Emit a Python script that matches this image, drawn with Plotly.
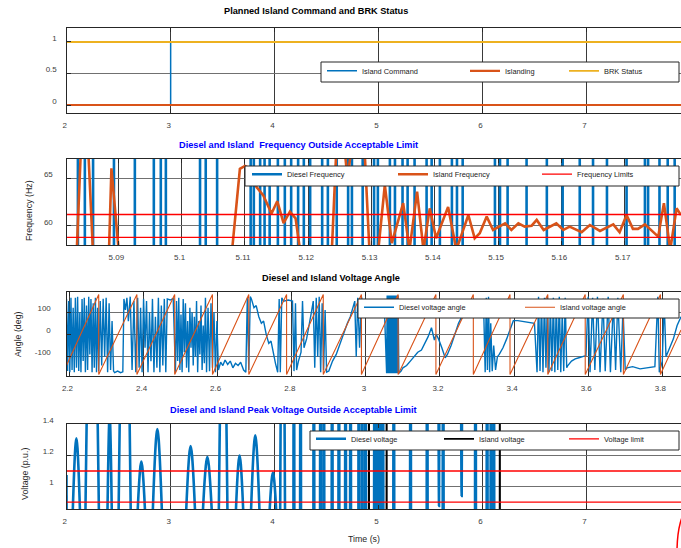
import plotly.graph_objects as go

# ======================= DATA =======================
# ---- shared time axis (panels 1 and 4) ----
time_range = [1.998, 7.91]
time_ticks = [2, 3, 4, 5, 6, 7]
time_ticktext = ["2", "3", "4", "5", "6", "7"]

# ---- panel 1: planned island command / BRK status ----
p1_yrange = [-0.127, 1.222]
p1_yticks = [0, 0.5, 1]
p1_yticktext = ["0", "0.5", "1"]
command_t = [1.998, 3.0, 3.0, 7.91]
command_v = [0, 0, 1, 1]
islanding_t = [1.998, 7.91]
islanding_v = [0, 0]
brk_t = [1.998, 7.91]
brk_v = [1, 1]

# ---- panel 2: frequency ----
freq_trange = [5.0818, 5.1789]
freq_xticks = [5.09, 5.10, 5.11, 5.12, 5.13, 5.14, 5.15, 5.16, 5.17]
freq_xticktext = ["5.09", "5.1", "5.11", "5.12", "5.13", "5.14", "5.15", "5.16", "5.17"]
freq_yrange = [58.0, 67.03]
freq_yticks = [60, 65]
freq_yticktext = ["60", "65"]
freq_limits = [61.2, 58.8]
# diesel frequency swings far off scale: times of the full-height swings
diesel_freq_swing_t = [5.0836, 5.0847, 5.0860, 5.0893, 5.0926, 5.0956, 5.0967, 5.0975,
                       5.1029, 5.1038, 5.1056, 5.1109, 5.1114, 5.1124, 5.1131, 5.1139,
                       5.1152, 5.1163, 5.1173, 5.1184, 5.1193, 5.1203, 5.1222, 5.1231,
                       5.1245, 5.1263, 5.1269, 5.1286, 5.1304, 5.1310, 5.1329, 5.1337,
                       5.1349, 5.1357, 5.1368, 5.1387, 5.1395, 5.1408, 5.1427, 5.1435,
                       5.1444, 5.1495, 5.1503, 5.1515, 5.1545, 5.1577, 5.1602, 5.1629,
                       5.1650, 5.1672, 5.1703, 5.1732, 5.1737, 5.1755, 5.1768, 5.1779]
diesel_freq_swing_low = 40.0
diesel_freq_swing_high = 80.0
island_freq_t = [5.0818, 5.0834, 5.0841, 5.0852, 5.0860, 5.0885, 5.0889, 5.0901, 5.1079, 5.1092,
                 5.1100, 5.1109, 5.1118, 5.1129, 5.1142, 5.1151, 5.1161, 5.1171, 5.1180, 5.1188,
                 5.1237, 5.1245, 5.1256, 5.1262, 5.1270, 5.1289, 5.1297, 5.1310, 5.1321, 5.1332,
                 5.1350, 5.1360, 5.1372, 5.1382, 5.1392, 5.1402, 5.1421, 5.1434, 5.1453, 5.1463,
                 5.1471, 5.1482, 5.1492, 5.1511, 5.1521, 5.1532, 5.1542, 5.1553, 5.1561, 5.1572,
                 5.1592, 5.1603, 5.1613, 5.1632, 5.1645, 5.1661, 5.1682, 5.1692, 5.1703, 5.1713,
                 5.1721, 5.1732, 5.1753, 5.1762, 5.1772, 5.1782, 5.1789]
island_freq_v = [57.0, 57.0, 68.5, 68.5, 57.0, 57.0, 66.05, 57.0, 57.0, 66.0,
                 66.3, 66.0, 64.1, 63.2, 61.3, 62.6, 60.3, 61.5, 60.8, 57.0,
                 57.0, 69.0, 69.0, 65.0, 69.0, 68.0, 57.0, 57.0, 64.3, 58.2,
                 62.4, 57.5, 63.6, 57.5, 61.85, 58.7, 62.0, 57.5, 61.15, 58.7,
                 59.23, 60.98, 59.58, 60.28, 59.58, 60.28, 59.93, 60.03, 60.63, 59.58,
                 60.28, 59.58, 59.93, 59.34, 60.1, 59.48, 60.17, 59.34, 61.15, 59.69,
                 59.69, 60.17, 58.88, 62.4, 57.5, 61.85, 61.15]

# ---- panel 3: voltage angle ----
ang_trange = [2.192, 3.8505]
ang_xticks = [2.2, 2.4, 2.6, 2.8, 3.0, 3.2, 3.4, 3.6, 3.8]
ang_xticktext = ["2.2", "2.4", "2.6", "2.8", "3", "3.2", "3.4", "3.6", "3.8"]
ang_yrange = [-187, 191]
ang_yticks = [-100, 0, 100]
ang_yticktext = ["-100", "0", "100"]
island_ang_t = [2.192, 2.279, 2.279, 2.382, 2.382, 2.484, 2.484, 2.586, 2.586, 2.684, 2.684,
                2.786, 2.786, 2.885, 2.885, 2.988, 2.988, 3.087, 3.087, 3.189, 3.189, 3.290,
                3.290, 3.389, 3.389, 3.491, 3.491, 3.592, 3.592, 3.695, 3.695, 3.795, 3.795, 3.8505]
island_ang_v = [-140, 180, -180, 180, -180, 180, -180, 180, -180, 180, -180,
                180, -180, 180, -180, 180, -180, 180, -180, 180, -180, 180,
                -180, 180, -180, 180, -180, 180, -180, 180, -180, 180, -180, 20]
diesel_ang_t = [
    2.192, 2.195, 2.198, 2.201, 2.204, 2.207, 2.210, 2.213, 2.216, 2.219, 2.222, 2.225, 2.228,
    2.231, 2.234, 2.237, 2.240, 2.243, 2.246, 2.249, 2.252, 2.255, 2.258, 2.261, 2.264, 2.267,
    2.270, 2.273, 2.276, 2.279, 2.283, 2.287, 2.291, 2.295, 2.299, 2.303, 2.307, 2.311, 2.315,
    2.319, 2.322, 2.330, 2.338, 2.344, 2.347, 2.351, 2.355, 2.359, 2.364, 2.369, 2.374, 2.379,
    2.384, 2.388, 2.392, 2.396, 2.400, 2.404, 2.408, 2.412, 2.416, 2.420, 2.424, 2.428, 2.432,
    2.436, 2.440, 2.444, 2.448, 2.452, 2.456, 2.460, 2.464, 2.472, 2.480,
    2.486, 2.489, 2.492, 2.495, 2.498, 2.501, 2.504, 2.507, 2.510, 2.513, 2.516, 2.519, 2.522,
    2.525, 2.528, 2.531, 2.534, 2.537, 2.540, 2.543, 2.546, 2.549, 2.552, 2.555, 2.558, 2.561,
    2.564, 2.567, 2.570, 2.574, 2.578, 2.582, 2.586, 2.590, 2.594, 2.598, 2.602,
    2.608, 2.614, 2.620, 2.627, 2.634, 2.641, 2.648, 2.655, 2.662, 2.670, 2.676,
    2.680, 2.684, 2.688, 2.691, 2.698, 2.704, 2.711, 2.718, 2.724, 2.731, 2.738, 2.744, 2.750,
    2.756, 2.762, 2.766, 2.769, 2.773, 2.778, 2.790, 2.802,
    2.806, 2.810, 2.813, 2.818, 2.825, 2.829, 2.833, 2.840, 2.846, 2.852, 2.858,
    2.862, 2.866, 2.870, 2.874, 2.878, 2.882, 2.886, 2.890,
    2.894, 2.900, 2.910, 2.920, 2.930, 2.940, 2.950, 2.958, 2.966,
    2.970, 2.974, 2.978, 2.983, 2.988, 2.994, 3.010, 3.030, 3.050,
    3.056, 3.0575, 3.059, 3.0605, 3.062, 3.0635, 3.065, 3.0665, 3.068, 3.0695, 3.071, 3.0725,
    3.074, 3.0755, 3.077, 3.0785, 3.080, 3.0815, 3.083, 3.0845, 3.086, 3.087,
    3.089, 3.095, 3.100, 3.110, 3.120, 3.130, 3.140, 3.150, 3.160, 3.168, 3.177, 3.185, 3.190,
    3.196, 3.205, 3.214, 3.220, 3.230, 3.240, 3.250, 3.259, 3.270, 3.300, 3.318,
    3.322, 3.325, 3.328, 3.331, 3.334, 3.337, 3.341, 3.345, 3.350, 3.355, 3.360, 3.370, 3.380,
    3.390, 3.398, 3.410, 3.420, 3.430, 3.440, 3.455,
    3.462, 3.466, 3.470, 3.474, 3.478, 3.482, 3.486, 3.490, 3.494, 3.498, 3.502, 3.506, 3.510,
    3.514, 3.518, 3.522, 3.526, 3.530, 3.534, 3.538, 3.542,
    3.545, 3.555, 3.565, 3.575, 3.585, 3.594,
    3.600, 3.605, 3.612, 3.618, 3.625, 3.632, 3.640, 3.646, 3.654, 3.660, 3.668, 3.674, 3.680,
    3.688, 3.694, 3.700,
    3.705, 3.720, 3.740, 3.760, 3.780,
    3.788, 3.792, 3.800, 3.805, 3.810, 3.820, 3.830, 3.840, 3.8505]
diesel_ang_v = [
    160, -165, 150, -170, 165, -160, 120, -170, 165, -150, 170, -165, 100,
    -170, 160, -120, 165, -170, 130, -160, 170, -90, 160, -170, 140, -150,
    165, -170, 120, -165, 150, -140, 160, -100, 165, -170, 140, -160, 60,
    -165, -172, -165, -172, -168, 160, 110, 165, 60, 170, -160, 150, -170,
    165, -150, 120, -170, 160, -60, 150, -170, 100, -120, 160, -170, 80,
    -150, 165, -170, 130, -140, 160, -170, 160, 155, 162,
    -170, 150, -120, 165, -160, 90, -170, 160, -80, 140, -150, 60, -170,
    120, -60, 100, -140, 80, -100, 150, -170, 60, -90, 130, -160, 40,
    -130, 165, -170, 120, -165, 140, -150, 100, -170, 60, -160,
    -125, -140, -115, -135, -120, -150, -130, -140, -125, -160, -170,
    165, -160, 170, 160, 120, 130, 80, 50, 60, 0, -40, -30, -90,
    -130, -170, 160, -170, 165, 150, 155, 150,
    -165, 140, -160, -120, -80, 150, -60, -20, 30, 90, 150,
    -150, 165, -100, 170, -170, 140, -160, 110,
    -170, -165, -120, -90, -40, 0, 50, 80, 120,
    150, -100, 165, -60, 170, 120, 110, 125, 115,
    -175, 175, -175, 175, -175, 175, -175, 175, -175, 175, -175, 175,
    -175, 175, -175, 175, -175, 175, -175, 175, -175, 175,
    -175, -165, -150, -140, -120, -100, -80, -70, -40, -10, 30, -25, 0,
    -20, -60, -105, -90, -50, 0, 50, 80, 120, 130, 110,
    -170, 165, -160, 170, -170, 50, -165, -50, -160, -100, -90, -60, -20,
    30, 62, 62, 60, 58, 55, 50,
    -170, 170, -165, 160, -170, 165, -150, 170, -170, 140, -165, 165, -170,
    150, -160, 170, -170, 100, -165, 165, -150,
    -140, -120, -110, -105, -100, -95,
    170, -170, 165, -160, 170, -170, 160, -165, 170, -170, 150, -160, 165,
    -170, 120, -160,
    -150, -145, -155, -150, -145,
    170, -170, -120, 150, -100, -60, -20, 40, 80]

# ---- panel 4: peak voltage ----
volt_yrange = [0.856, 1.402]
volt_yticks = [1.0, 1.2, 1.4]
volt_yticktext = ["1", "1.2", "1.4"]
volt_limits = [1.1, 0.9]
diesel_volt_t = [
    1.998, 2.001, None,
    2.036, 2.093, 2.150, None,
    2.170, 2.245, 2.320, None,
    2.382, 2.413, 2.444, None,
    2.490, 2.558, 2.625, None,
    2.651, 2.718, 2.785, None,
    2.803, 2.872, 2.941, None,
    3.119, 3.192, 3.265, None,
    3.275, 3.353, 3.431, None,
    3.455, 3.505, 3.555, None,
    3.599, 3.663, 3.727, None,
    3.748, 3.814, 3.880, None,
    3.917, 3.984, 4.051, None,
    4.050, 4.077, 4.104, None,
    4.181, 4.186, 4.191, None,
    4.245, 4.250, 4.255, None,
    4.373, 4.378, 4.383, None,
    4.437, 4.442, 4.447, None,
    4.469, 4.474, 4.479, None,
    4.549, 4.554, 4.559, None,
    4.614, 4.619, 4.624, None,
    4.678, 4.683, 4.688, None,
    4.726, 4.731, 4.736, None,
    4.806, 4.811, 4.816, None,
    4.838, 4.843, 4.848, None,
    4.870, 4.875, 4.880, None,
    4.957, 4.962, 4.967, None,
    4.967, 4.972, 4.977, None,
    4.977, 4.982, 4.987, None,
    4.987, 4.992, 4.997, None,
    4.997, 5.002, 5.007, None,
    5.007, 5.012, 5.017, None,
    5.017, 5.022, 5.027, None,
    5.027, 5.032, 5.037, None,
    5.037, 5.042, 5.047, None,
    5.142, 5.147, 5.152, None,
    5.303, 5.308, 5.313, None,
    5.463, 5.468, 5.473, None,
    5.572, 5.582, 5.592, None,
    5.617, 5.622, 5.627, None,
    5.788, 5.800, 5.812, None,
    5.928, 5.933, 5.938, None,
    6.040, 6.045, 6.050, None,
    6.078, 6.083, 6.088, None,
    6.104, 6.109, 6.114]
diesel_volt_v = [
    1.075, 0.3, None,
    0.3, 1.31, 0.3, None,
    0.3, 3.0, 0.3, None,
    0.3, 1.46, 0.3, None,
    0.3, 3.0, 0.3, None,
    0.3, 1.16, 0.3, None,
    0.3, 1.37, 0.3, None,
    0.3, 1.26, 0.3, None,
    0.3, 1.19, 0.3, None,
    0.3, 2.5, 0.3, None,
    0.3, 1.20, 0.3, None,
    0.3, 1.33, 0.3, None,
    0.3, 1.09, 0.3, None,
    0.3, 3.0, 0.3, None,
    0.3, 3.5, 0.3, None,
    0.3, 3.5, 0.3, None,
    0.3, 3.5, 0.3, None,
    0.3, 3.5, 0.3, None,
    0.3, 3.5, 0.3, None,
    0.3, 3.5, 0.3, None,
    0.3, 3.5, 0.3, None,
    0.3, 3.5, 0.3, None,
    0.3, 3.5, 0.3, None,
    0.3, 3.5, 0.3, None,
    0.3, 3.5, 0.3, None,
    0.3, 3.5, 0.3, None,
    0.3, 3.5, 0.3, None,
    0.3, 3.5, 0.3, None,
    0.3, 3.5, 0.3, None,
    0.3, 3.5, 0.3, None,
    0.3, 3.5, 0.3, None,
    0.3, 3.5, 0.3, None,
    0.3, 3.5, 0.3, None,
    0.3, 3.5, 0.3, None,
    0.3, 3.5, 0.3, None,
    0.3, 3.5, 0.3, None,
    0.3, 3.5, 0.3, None,
    0.3, 3.5, 0.3, None,
    3.0, 0.875, 3.0, None,
    0.3, 3.5, 0.3, None,
    3.0, 0.94, 3.0, None,
    0.3, 3.5, 0.3, None,
    0.3, 3.5, 0.3, None,
    0.3, 3.5, 0.3, None,
    0.3, 3.5, 0.3]
island_volt_t = [1.998, 4.906, 4.908, 4.910, 5.076, 5.078, 5.080, 6.165, 6.167, 6.169, 7.91]
island_volt_v = [0.0, 0.0, 3.0, 0.0, 0.0, 3.0, 0.0, 0.0, 3.0, 0.0, 0.0]

# ======================= STYLE / LAYOUT =======================
W, H = 681, 548
BLUE, ORANGE, YELLOW = "#0072BD", "#D95319", "#EDB120"
FONT = "Liberation Sans, Arial, Helvetica, sans-serif"


def fx(px):
    return px / W


def fy(py):
    return 1 - py / H


X0 = 66.5
panels = {  # top, bottom pixel rows of each axes box
    1: (28, 113), 2: (159, 245), 3: (292, 376), 4: (424, 509),
}

fig = go.Figure()

# ---------- panel 1 ----------
fig.add_trace(go.Scatter(x=command_t, y=command_v, mode="lines", name="Island Command",
                         line=dict(color=BLUE, width=1.5), xaxis="x", yaxis="y", legend="legend"))
fig.add_trace(go.Scatter(x=islanding_t, y=islanding_v, mode="lines", name="Islanding",
                         line=dict(color=ORANGE, width=2.2), xaxis="x", yaxis="y", legend="legend2"))
fig.add_trace(go.Scatter(x=brk_t, y=brk_v, mode="lines", name="BRK Status",
                         line=dict(color=YELLOW, width=1.8), xaxis="x", yaxis="y", legend="legend3"))

# ---------- panel 2 ----------
dfx, dfy = [], []
for t in diesel_freq_swing_t:
    dfx += [t, t, None]
    dfy += [diesel_freq_swing_low, diesel_freq_swing_high, None]
fig.add_trace(go.Scatter(x=dfx, y=dfy, mode="lines", name="Diesel Frequency",
                         line=dict(color=BLUE, width=2.6), xaxis="x2", yaxis="y2", legend="legend4"))
fig.add_trace(go.Scatter(x=island_freq_t, y=island_freq_v, mode="lines", name="Island Frequency",
                         line=dict(color=ORANGE, width=2.6), xaxis="x2", yaxis="y2", legend="legend5"))
flx, fly = [], []
for lim in freq_limits:
    flx += [freq_trange[0], freq_trange[1], None]
    fly += [lim, lim, None]
fig.add_trace(go.Scatter(x=flx, y=fly, mode="lines", name="Frequency Limits",
                         line=dict(color="#FF0000", width=1.3), xaxis="x2", yaxis="y2", legend="legend6"))

# ---------- panel 3 ----------
fig.add_trace(go.Scatter(x=diesel_ang_t, y=diesel_ang_v, mode="lines", name="Diesel voltage angle",
                         line=dict(color=BLUE, width=1.4), xaxis="x3", yaxis="y3", legend="legend7"))
fig.add_trace(go.Scatter(x=island_ang_t, y=island_ang_v, mode="lines", name="Island voltage angle",
                         line=dict(color=ORANGE, width=1.1), xaxis="x3", yaxis="y3", legend="legend8"))

# ---------- panel 4 ----------
fig.add_trace(go.Scatter(x=diesel_volt_t, y=diesel_volt_v, mode="lines", name="Diesel voltage",
                         line=dict(color=BLUE, width=2.6, shape="spline", smoothing=1.0),
                         xaxis="x4", yaxis="y4", legend="legend9"))
fig.add_trace(go.Scatter(x=island_volt_t, y=island_volt_v, mode="lines", name="Island voltage",
                         line=dict(color="#000000", width=1.8), xaxis="x4", yaxis="y4", legend="legend10"))
vlx, vly = [], []
for lim in volt_limits:
    vlx += [time_range[0], time_range[1], None]
    vly += [lim, lim, None]
fig.add_trace(go.Scatter(x=vlx, y=vly, mode="lines", name="Voltage limit",
                         line=dict(color="#FF0000", width=1.3), xaxis="x4", yaxis="y4", legend="legend11"))

# ---------- axes ----------
axis_common = dict(showline=True, linecolor="#262626", linewidth=1.2, ticks="inside", ticklen=4,
                   tickcolor="#262626", tickwidth=1, showgrid=True, zeroline=False, automargin=False,
                   tickfont=dict(family=FONT, size=8, color="#404040"))


def xax(rng, tv, tt, n):
    return dict(axis_common, domain=[fx(X0), 1], range=rng, tickmode="array", tickvals=tv,
                ticktext=tt, anchor="y" if n == 1 else f"y{n}", mirror="ticks",
                gridcolor="#3a3a3a", gridwidth=1.1, ticklabelstandoff=4, ticklabelshift=-2)


def yax(rng, tv, tt, n, standoff):
    top, bot = panels[n]
    return dict(axis_common, domain=[fy(bot), fy(top)], range=rng, tickmode="array", tickvals=tv,
                ticktext=tt, anchor="x" if n == 1 else f"x{n}", mirror=False,
                gridcolor="#707070", gridwidth=1.4, ticklabelstandoff=standoff, ticklabelshift=-4)


layout = dict(
    template="none",
    width=W, height=H, margin=dict(l=0, r=0, t=0, b=0, pad=0, autoexpand=False),
    paper_bgcolor="white", plot_bgcolor="white", showlegend=True,
    font=dict(family=FONT, size=8, color="#262626"),
    xaxis=xax(time_range, time_ticks, time_ticktext, 1),
    yaxis=yax(p1_yrange, p1_yticks, p1_yticktext, 1, 7),
    xaxis2=xax(freq_trange, freq_xticks, freq_xticktext, 2),
    yaxis2=yax(freq_yrange, freq_yticks, freq_yticktext, 2, 11),
    xaxis3=xax(ang_trange, ang_xticks, ang_xticktext, 3),
    yaxis3=yax(ang_yrange, ang_yticks, ang_yticktext, 3, 13),
    xaxis4=xax(time_range, time_ticks, time_ticktext, 4),
    yaxis4=yax(volt_yrange, volt_yticks, volt_yticktext, 4, 10),
)

# ---------- legends (one per entry, MATLAB-style horizontal boxes) ----------
LEG_OFF = 3
legend_pos = {
    "legend": (325, 72.3), "legend2": (468, 72.3), "legend3": (567, 72.3),
    "legend4": (250, 175.7), "legend5": (396, 175.7), "legend6": (540, 175.7),
    "legend7": (362, 308.7), "legend8": (523, 308.7),
    "legend9": (314, 440.3), "legend10": (442, 440.3), "legend11": (567, 440.3),
}
for lid, (lx, ly) in legend_pos.items():
    layout[lid] = dict(x=fx(lx - LEG_OFF), y=fy(ly - 1.5), xanchor="left", yanchor="middle",
                       bgcolor="rgba(0,0,0,0)", borderwidth=0,
                       font=dict(family=FONT, size=7.4, color="#1a1a1a"))

legend_boxes = [(321, 62, 679, 82), (245, 166, 679, 186), (358, 299, 679, 318), (310, 431, 679, 450)]
shapes = []
for (a, b, c, d) in legend_boxes:
    shapes.append(dict(type="rect", xref="paper", yref="paper", x0=fx(a), x1=fx(c), y0=fy(d), y1=fy(b),
                       fillcolor="white", line=dict(color="#262626", width=1), layer="above"))
shapes.append(dict(type="circle", xref="paper", yref="paper", x0=fx(677), x1=fx(700),
                   y0=fy(595), y1=fy(510), line=dict(color="#FF0000", width=1.5)))
layout["shapes"] = shapes

# ---------- titles & labels ----------
ann = []
titles = [("Planned Island Command and BRK Status", 316, 11, "#000000"),
          ("Diesel and Island  Frequency Outside Acceptable Limit", 298, 145, "#0000FF"),
          ("Diesel and Island Voltage Angle", 331, 278, "#000000"),
          ("Diesel and Island Peak Voltage Outside Acceptable Limit", 293, 410, "#0000FF")]
for text, px, py, col in titles:
    ann.append(dict(text=f"<b>{text}</b>", x=fx(px), y=fy(py), xref="paper", yref="paper",
                    showarrow=False, xanchor="center", yanchor="middle",
                    font=dict(family=FONT, size=9.2, color=col)))
ylabels = [("Frequency (Hz)", 29, 211), ("Angle (deg)", 18, 334), ("Voltage (p.u.)", 25, 474)]
for text, px, py in ylabels:
    ann.append(dict(text=text, x=fx(px), y=fy(py), xref="paper", yref="paper", showarrow=False,
                    textangle=-90, xanchor="center", yanchor="middle",
                    font=dict(family=FONT, size=8.8, color="#262626")))
ann.append(dict(text="Time (s)", x=fx(364), y=fy(539), xref="paper", yref="paper", showarrow=False,
                xanchor="center", yanchor="middle", font=dict(family=FONT, size=8.8, color="#262626")))
layout["annotations"] = ann

fig.update_layout(**layout)
fig.write_html("out.html", config={"displayModeBar": False},
               post_script="document.body.style.margin='0';document.body.style.padding='0';"
                           "document.body.style.overflow='hidden';")
